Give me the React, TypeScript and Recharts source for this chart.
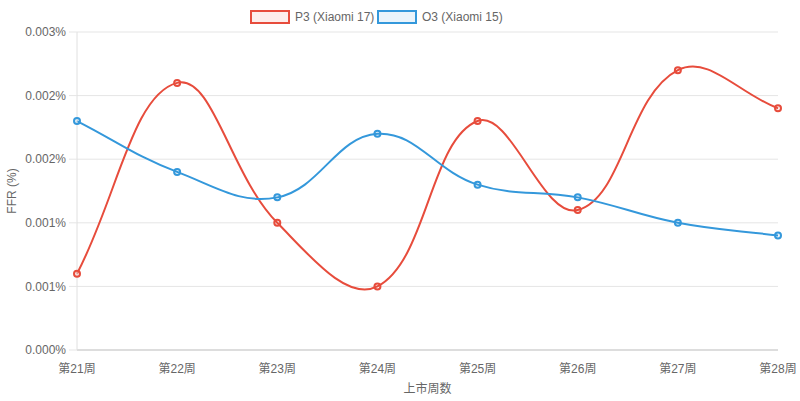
import React from "react";
import { LineChart, Line, XAxis, YAxis, CartesianGrid } from "recharts";

const weeks = ["第21周", "第22周", "第23周", "第24周", "第25周", "第26周", "第27周", "第28周"];
const p3Values = [0.0006, 0.0021, 0.001, 0.0005, 0.0018, 0.0011, 0.0022, 0.0019];
const o3Values = [0.0018, 0.0014, 0.0012, 0.0017, 0.0013, 0.0012, 0.001, 0.0009];
const yTicks = [0, 0.0005, 0.001, 0.0015, 0.002, 0.0025];

const RED = "#e74c3c";
const BLUE = "#3498db";
const FONT = "'Liberation Sans', Arial, 'Noto Sans CJK SC', sans-serif";

const data = weeks.map((w, i) => ({ week: w, p3: p3Values[i], o3: o3Values[i] }));

// Chart.js style spline (tension 0.4) as a d3 curve factory
const TENSION = 0.4;
function splineCurve(context: any) {
  let pts: [number, number][] = [];
  return {
    areaStart() {},
    areaEnd() {},
    lineStart() {
      pts = [];
    },
    point(x: number, y: number) {
      pts.push([+x, +y]);
    },
    lineEnd() {
      const n = pts.length;
      if (!n) return;
      context.moveTo(pts[0][0], pts[0][1]);
      if (n === 1) return;
      const cps = pts.map((p, i) => {
        const prev = pts[i - 1] ?? p;
        const next = pts[i + 1] ?? p;
        const d01 = Math.hypot(p[0] - prev[0], p[1] - prev[1]);
        const d12 = Math.hypot(next[0] - p[0], next[1] - p[1]);
        const sum = d01 + d12;
        const fa = sum ? (TENSION * d01) / sum : 0;
        const fb = sum ? (TENSION * d12) / sum : 0;
        return {
          px: p[0] - fa * (next[0] - prev[0]),
          py: p[1] - fa * (next[1] - prev[1]),
          nx: p[0] + fb * (next[0] - prev[0]),
          ny: p[1] + fb * (next[1] - prev[1]),
        };
      });
      for (let i = 1; i < n; i++) {
        context.bezierCurveTo(cps[i - 1].nx, cps[i - 1].ny, cps[i].px, cps[i].py, pts[i][0], pts[i][1]);
      }
    },
  };
}

function LegendItem({ color, fill, label, left }: { color: string; fill: string; label: string; left: number }) {
  return (
    <div style={{ position: "absolute", left, top: 10, display: "flex", alignItems: "center" }}>
      <span
        style={{
          display: "inline-block",
          width: 36,
          height: 10,
          border: `2px solid ${color}`,
          background: fill,
        }}
      />
      <span style={{ marginLeft: 5, fontSize: 12, color: "#666", fontFamily: FONT, lineHeight: "14px" }}>{label}</span>
    </div>
  );
}

export default function App() {
  return (
    <div style={{ position: "absolute", left: 0, top: 0, width: 800, height: 401, background: "#fff" }}>
      <LineChart width={800} height={401} data={data} margin={{ top: 32, right: 22, left: 0, bottom: 0 }}>
        <CartesianGrid vertical={false} stroke="#e5e5e5" />
        <XAxis
          dataKey="week"
          height={51}
          tickLine={false}
          tickSize={8}
          tickMargin={6}
          axisLine={{ stroke: "#c8c8c8" }}
          tick={{ fontSize: 12, fill: "#666", fontFamily: FONT }}
          interval={0}
          label={({ viewBox }: any) => (
            <text
              x={viewBox.x + viewBox.width / 2}
              y={393}
              textAnchor="middle"
              fontSize={12}
              fill="#666"
              fontFamily={FONT}
            >
              上市周数
            </text>
          )}
        />
        <YAxis
          width={77}
          domain={[0, 0.0025]}
          ticks={yTicks}
          tickSize={8}
          tickMargin={3}
          tickLine={{ stroke: "#e5e5e5" }}
          axisLine={{ stroke: "#e0e0e0" }}
          tick={{ fontSize: 12, fill: "#666", fontFamily: FONT }}
          tickFormatter={(v: number) => `${v.toFixed(3)}%`}
          label={({ viewBox }: any) => {
            const cy = viewBox.y + viewBox.height / 2;
            return (
              <text
                x={16}
                y={cy}
                transform={`rotate(-90 16 ${cy})`}
                textAnchor="middle"
                fontSize={12}
                fill="#666"
                fontFamily={FONT}
              >
                FFR (%)
              </text>
            );
          }}
        />
        <Line
          dataKey="p3"
          type={splineCurve as any}
          stroke={RED}
          strokeWidth={2}
          dot={{ r: 3, stroke: RED, strokeWidth: 2, fill: "rgba(231,76,60,0.1)" }}
          isAnimationActive={false}
        />
        <Line
          dataKey="o3"
          type={splineCurve as any}
          stroke={BLUE}
          strokeWidth={2}
          dot={{ r: 3, stroke: BLUE, strokeWidth: 2, fill: "rgba(52,152,219,0.1)" }}
          isAnimationActive={false}
        />
      </LineChart>
      <LegendItem color={RED} fill="rgba(231,76,60,0.1)" label="P3 (Xiaomi 17)" left={250} />
      <LegendItem color={BLUE} fill="rgba(52,152,219,0.1)" label="O3 (Xiaomi 15)" left={377} />
    </div>
  );
}
